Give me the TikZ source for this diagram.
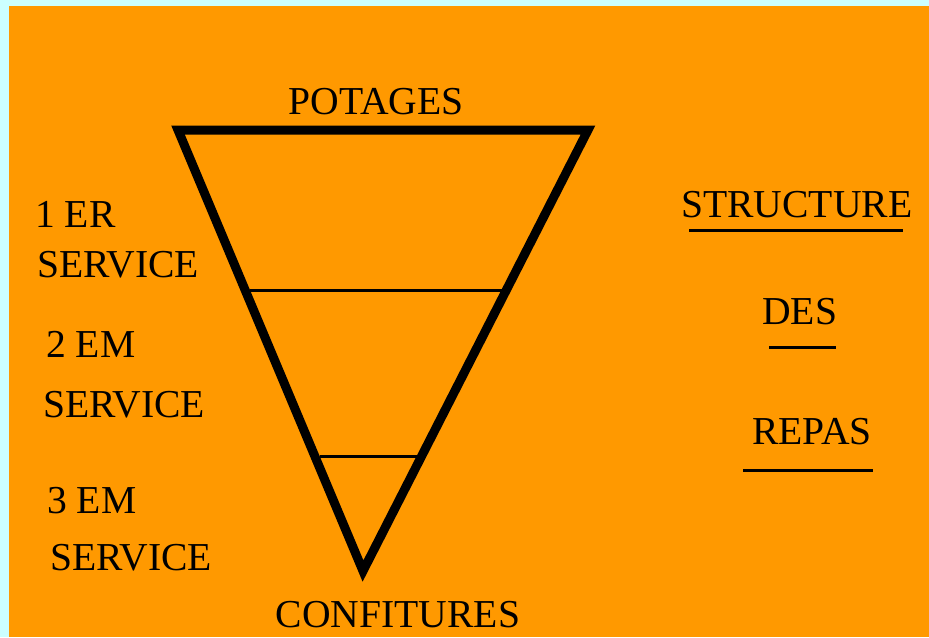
\documentclass[tikz,border=0pt]{standalone}
\usepackage{fontspec}
\setmainfont{Liberation Serif}
\definecolor{fond}{HTML}{CCFFFF}
\definecolor{orange}{HTML}{FF9900}
\newcommand{\gros}{\fontsize{29.7}{34}\selectfont}
\tikzset{etiquette/.style={anchor=base west,inner sep=0,text=black,font=\gros},
  titre/.style={anchor=base,inner sep=0,text=black,font=\gros},
  entonnoir/.style={line width=6.75pt,line join=miter},
  trait/.style={line width=2.25pt}}

\begin{document}
\begin{tikzpicture}[x=0.75pt,y=-0.75pt]
\useasboundingbox (0,0) rectangle (929,637);
\fill[fond] (0,0) rectangle (929,637);
\fill[orange] (9,6) rectangle (929,637);
% entonnoir des services
\draw[entonnoir] (178,130) -- (588,130) -- (363,571) -- cycle;
\draw[trait] (250,290) -- (502,290);
\draw[trait] (320,456) -- (417,456);
\node[titre] (potages) at (376,114) {POTAGES};
\node[titre] (confitures) at (398,627) {CONFITURES};
% services
\node[etiquette] (s1a) at (35,227) {1 ER};
\node[etiquette] (s1b) at (37,277) {SERVICE};
\node[etiquette] (s2a) at (46,357) {2 EM};
\node[etiquette] (s2b) at (43,417) {SERVICE};
\node[etiquette] (s3a) at (47,513) {3 EM};
\node[etiquette] (s3b) at (50,570) {SERVICE};
% titre a droite
\node[etiquette] (structure) at (681,217) {STRUCTURE};
\draw[trait] (689,230) -- (903,230);
\node[etiquette] (des) at (762,324) {DES};
\draw[trait] (769,347) -- (836,347);
\node[etiquette] (repas) at (752,444) {REPAS};
\draw[trait] (743,470) -- (873,470);
\end{tikzpicture}
\end{document}
